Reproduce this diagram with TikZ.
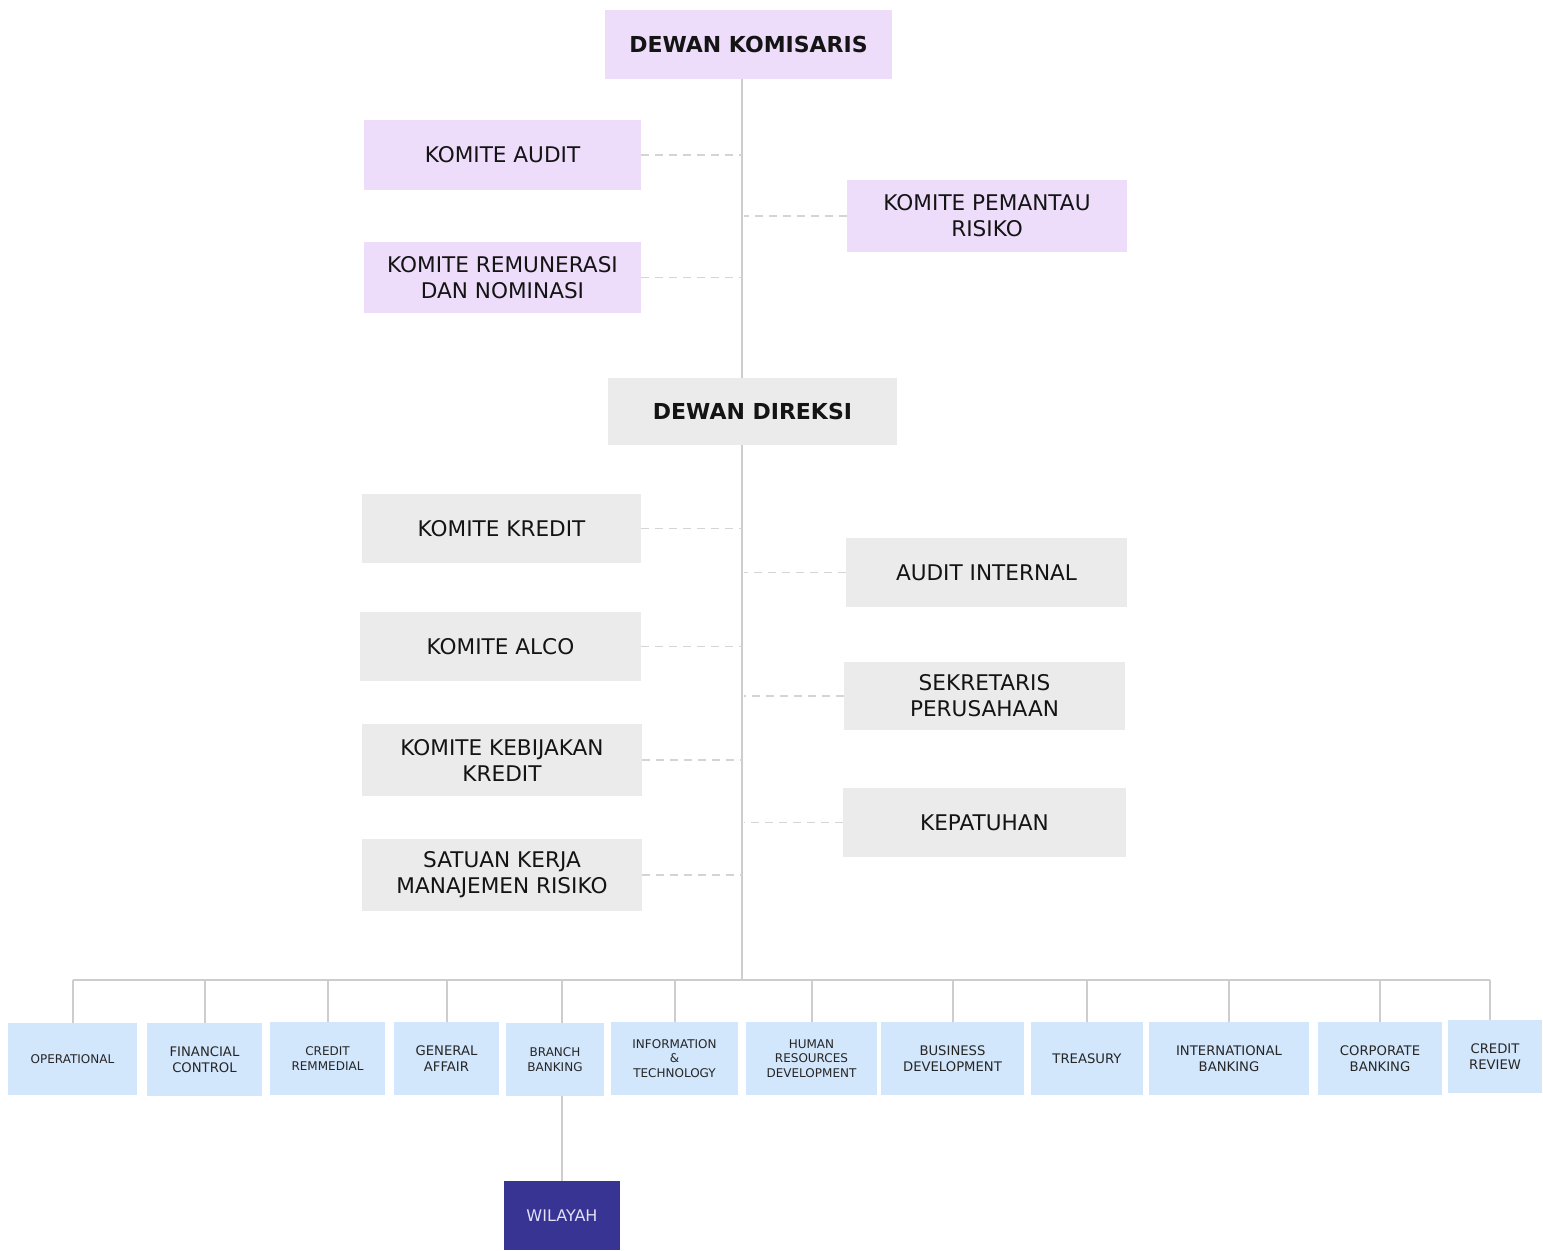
\documentclass[tikz,border=0pt]{standalone}
\usepackage{fontspec}
\setmainfont{DejaVu Sans}
\definecolor{komlilac}{HTML}{EDDDFB}
\definecolor{dirgrey}{HTML}{EBEBEB}
\definecolor{divblue}{HTML}{D2E6FC}
\definecolor{wilblue}{HTML}{373494}
\definecolor{wiltext}{HTML}{E4E0F8}
\definecolor{linegrey}{HTML}{CDCDCD}
\begin{document}
\begin{tikzpicture}[x=0.5pt,y=-0.5pt,
    sz/.style 2 args={minimum width=#1*0.5pt, minimum height=#2*0.5pt},
    unit/.style={inner sep=0pt, align=center, text=black!92},
    board/.style={unit, fill=komlilac, font=\fontsize{10.8}{13}\selectfont},
    boardhead/.style={board, font=\fontsize{11}{13}\selectfont\bfseries},
    direk/.style={unit, fill=dirgrey, font=\fontsize{10.8}{13}\selectfont},
    direkhead/.style={direk, font=\fontsize{11}{13}\selectfont\bfseries},
    divisi/.style={unit, fill=divblue, text=black!85, font=\fontsize{6.6}{8}\selectfont},
    divsmall/.style={divisi, font=\fontsize{6}{7.3}\selectfont},
    solidline/.style={draw=linegrey, line width=1pt},
    dashline/.style={draw=linegrey!85, line width=0.9pt, dash pattern=on 4pt off 3pt}]
    \useasboundingbox (0,0) rectangle (1543,1251);
    \coordinate (bus) at (742,980);

    % dewan komisaris dan komite
    \node[boardhead, sz={287}{69}] (komisaris) at (748.5,44.5) {DEWAN KOMISARIS};
    \node[board, sz={277}{70}] (kaudit) at (502.5,155) {KOMITE AUDIT};
    \node[board, sz={280}{72}] (kpemantau) at (987,216) {KOMITE PEMANTAU\\RISIKO};
    \node[board, sz={277}{71}] (kremun) at (502.5,277.5) {KOMITE REMUNERASI\\DAN NOMINASI};

    % dewan direksi dan unit
    \node[direkhead, sz={289}{67}] (direksi) at (752.5,411.5) {DEWAN DIREKSI};
    \node[direk, sz={279}{69}] (kkredit) at (501.5,528.5) {KOMITE KREDIT};
    \node[direk, sz={281}{69}] (auditint) at (986.5,572.5) {AUDIT INTERNAL};
    \node[direk, sz={281}{69}] (alco) at (500.5,646.5) {KOMITE ALCO};
    \node[direk, sz={281}{68}] (sekper) at (984.5,696) {SEKRETARIS\\PERUSAHAAN};
    \node[direk, sz={280}{72}] (kkk) at (502,760) {KOMITE KEBIJAKAN\\KREDIT};
    \node[direk, sz={283}{69}] (patuh) at (984.5,822.5) {KEPATUHAN};
    \node[direk, sz={280}{72}] (skmr) at (502,875) {SATUAN KERJA\\MANAJEMEN RISIKO};

    % divisi
    \node[divsmall, sz={129}{72}] (ops) at (72.5,1059) {OPERATIONAL};
    \node[divisi, sz={115}{73}] (fin) at (204.5,1059.5) {FINANCIAL\\CONTROL};
    \node[divsmall, sz={115}{73}] (crem) at (327.5,1058.5) {CREDIT\\REMMEDIAL};
    \node[divisi, sz={105}{73}] (ga) at (446.5,1058.5) {GENERAL\\AFFAIR};
    \node[divsmall, sz={98}{73}] (branch) at (555,1059.5) {BRANCH\\BANKING};
    \node[divsmall, sz={127}{73}] (ittech) at (674.5,1058.5) {INFORMATION\\\&\\TECHNOLOGY};
    \node[divsmall, sz={131}{73}] (hrd) at (811.5,1058.5) {HUMAN\\RESOURCES\\DEVELOPMENT};
    \node[divisi, sz={143}{73}] (busdev) at (952.5,1058.5) {BUSINESS\\DEVELOPMENT};
    \node[divisi, sz={112}{73}] (treas) at (1087,1058.5) {TREASURY};
    \node[divisi, sz={160}{73}] (intl) at (1229,1058.5) {INTERNATIONAL\\BANKING};
    \node[divisi, sz={124}{73}] (corp) at (1380,1058.5) {CORPORATE\\BANKING};
    \node[divisi, sz={94}{73}] (crrev) at (1495,1056.5) {CREDIT\\REVIEW};
    \node[unit, fill=wilblue, text=wiltext, sz={116}{69}, font=\fontsize{8}{10}\selectfont] (wilayah) at (562,1215.5) {WILAYAH};

    % garis
    \draw[solidline] (komisaris.south -| bus) -- (direksi.north -| bus);
    \draw[solidline] (direksi.south -| bus) -- (bus);
    \foreach \kom in {kaudit,kremun,kkredit,alco,kkk,skmr}
        \draw[dashline] (\kom.east) -- (\kom.east -| bus);
    \foreach \kom in {kpemantau,auditint,sekper,patuh}
        \draw[dashline] (\kom.west) -- ([xshift=1pt]\kom.west -| bus);
    \draw[solidline] (ops.north |- bus) -- ([xshift=-2.5pt]crrev.north |- bus);
    \foreach \div in {ops,fin,crem,ga,ittech,hrd,busdev,treas,intl,corp}
        \draw[solidline] (\div.north |- bus) -- (\div.north);
    \draw[solidline] ([xshift=-2.5pt]crrev.north |- bus) -- ([xshift=-2.5pt]crrev.north);
    \draw[solidline] (wilayah.north |- bus) -- (wilayah.north |- branch.north);
    \draw[solidline] (wilayah.north |- branch.south) -- (wilayah.north);
\end{tikzpicture}
\end{document}
